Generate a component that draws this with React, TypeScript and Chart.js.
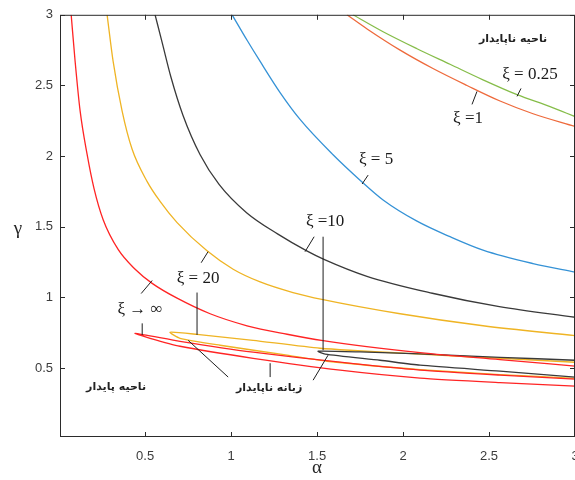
import React, { useEffect, useRef } from "react";
import { Chart, registerables } from "chart.js";

Chart.register(...registerables);

// Axis ticks
const alphaTicks = [0.5, 1, 1.5, 2, 2.5, 3];
const gammaTicks = [0.5, 1, 1.5, 2, 2.5, 3];

// ξ → ∞ : upper stability boundary
const infUpperA = [0.07, 0.093, 0.122, 0.163, 0.203, 0.256, 0.343, 0.442, 0.541, 0.686, 0.878, 1.093, 1.326, 1.535, 2.099, 2.564, 3.0];
const infUpperG = [3.0, 2.67, 2.32, 2.01, 1.77, 1.55, 1.34, 1.2, 1.1, 0.995, 0.885, 0.8, 0.74, 0.695, 0.61, 0.56, 0.515];
// ξ → ∞ : unstable tongue (upper edge right→tip, then lower edge tip→right)
const infTongueA = [3.0, 2.564, 2.099, 1.634, 1.128, 0.703, 0.442, 0.529, 0.703, 1.128, 1.634, 2.099, 2.564, 3.0];
const infTongueG = [0.423, 0.451, 0.486, 0.542, 0.613, 0.69, 0.746, 0.711, 0.655, 0.57, 0.486, 0.43, 0.398, 0.373];

// ξ = 20
const x20UpperA = [0.279, 0.314, 0.366, 0.424, 0.512, 0.587, 0.686, 0.86, 1.012, 1.169, 1.36, 1.535, 1.983, 2.465, 3.0];
const x20UpperG = [3.0, 2.67, 2.32, 2.05, 1.82, 1.68, 1.53, 1.33, 1.2, 1.11, 1.035, 0.985, 0.885, 0.8, 0.73];
const x20TongueA = [3.0, 2.564, 2.099, 1.517, 1.128, 0.802, 0.645, 0.703, 0.936, 1.326, 1.558, 2.099, 2.564, 3.0];
const x20TongueG = [0.542, 0.57, 0.599, 0.641, 0.697, 0.739, 0.754, 0.711, 0.662, 0.592, 0.549, 0.49, 0.455, 0.428];

// ξ = 10
const x10UpperA = [0.558, 0.6, 0.65, 0.72, 0.82, 0.93, 1.09, 1.27, 1.44, 1.54, 1.79, 2.17, 2.56, 3.0];
const x10UpperG = [3.0, 2.8, 2.56, 2.29, 2.01, 1.8, 1.6, 1.45, 1.33, 1.27, 1.15, 1.03, 0.935, 0.86];
const x10TongueA = [3.0, 2.564, 2.099, 1.75, 1.506, 1.547, 1.866, 2.099, 2.564, 3.0];
const x10TongueG = [0.556, 0.577, 0.601, 0.615, 0.62, 0.599, 0.556, 0.521, 0.479, 0.437];

// ξ = 5
const x5A = [1.006, 1.093, 1.169, 1.285, 1.401, 1.593, 1.75, 1.884, 2.081, 2.273, 2.465, 2.756, 3.0];
const x5G = [3.0, 2.82, 2.67, 2.45, 2.26, 2.01, 1.83, 1.69, 1.54, 1.43, 1.335, 1.24, 1.18];

// ξ = 1
const x1A = [1.674, 1.791, 1.983, 2.174, 2.372, 2.564, 2.756, 3.0];
const x1G = [3.0, 2.9, 2.75, 2.62, 2.5, 2.39, 2.3, 2.21];

// ξ = 0.25
const x025A = [1.709, 1.884, 2.081, 2.273, 2.465, 2.663, 2.855, 3.0];
const x025G = [3.0, 2.88, 2.76, 2.65, 2.54, 2.435, 2.35, 2.28];

// Curve labels and their leader lines (data coordinates)
const curveLabels = [
  { text: "ξ = 0.25", a: 2.738, g: 2.577 },
  { text: "ξ =1", a: 2.378, g: 2.268 },
  { text: "ξ = 5", a: 1.843, g: 1.979 },
  { text: "ξ =10", a: 1.547, g: 1.535 },
  { text: "ξ = 20", a: 0.808, g: 1.134 },
  { text: "ξ → ∞", a: 0.471, g: 0.915 },
];
const leaderLines = [
  [2.663, 2.423, 2.686, 2.479],
  [2.401, 2.366, 2.43, 2.458],
  [1.762, 1.803, 1.797, 1.866],
  [1.43, 1.324, 1.483, 1.43],
  [1.535, 1.43, 1.535, 0.627],
  [0.826, 1.246, 0.866, 1.324],
  [0.802, 1.035, 0.802, 0.735],
  [0.477, 1.028, 0.541, 1.12],
  [0.483, 0.817, 0.483, 0.735],
  [0.75, 0.697, 0.983, 0.437],
  [1.227, 0.535, 1.227, 0.437],
  [1.477, 0.415, 1.564, 0.592],
];
const regionLabels = [
  { text: "ناحیه ناپایدار", a: 2.64, g: 2.831 },
  { text: "ناحیه پایدار", a: 0.331, g: 0.366 },
  { text: "زبانه ناپایدار", a: 1.221, g: 0.359 },
];

const RED = "#ff2424";
const ORANGE = "#efb424";
const BLACK = "#3a3a3a";
const BLUE = "#3592d6";
const ORANGE_RED = "#ee6a3c";
const GREEN = "#86bd4a";

const zip = (a: number[], g: number[]) => a.map((v, i) => ({ x: v, y: g[i] }));

// boundary branches: x increases monotonically, so use monotone cubic smoothing
const branch = (data: { x: number; y: number }[], color: string) => ({
  data,
  borderColor: color,
  backgroundColor: color,
  borderWidth: 1.3,
  pointRadius: 0,
  showLine: true,
  fill: false,
  cubicInterpolationMode: "monotone",
});

// closed tongues fold back on themselves, so use plain bezier tension
const tongue = (data: { x: number; y: number }[], color: string) => ({
  data,
  borderColor: color,
  backgroundColor: color,
  borderWidth: 1.3,
  pointRadius: 0,
  showLine: true,
  fill: false,
  tension: 0.2,
});

const overlayPlugin = {
  id: "overlay",
  afterDatasetsDraw(chart: any) {
    const { ctx, chartArea, scales } = chart;
    const xs = scales.x;
    const ys = scales.y;
    const { left, right, top, bottom } = chartArea;
    ctx.save();

    // frame
    ctx.strokeStyle = "#2b2b2b";
    ctx.lineWidth = 1;
    ctx.strokeRect(left + 0.5, top + 0.5, right - left - 1, bottom - top - 1);

    // inward ticks on all four sides
    const tl = 5;
    ctx.beginPath();
    alphaTicks.forEach((v) => {
      const px = Math.round(xs.getPixelForValue(v)) + 0.5;
      ctx.moveTo(px, bottom);
      ctx.lineTo(px, bottom - tl);
      ctx.moveTo(px, top);
      ctx.lineTo(px, top + tl);
    });
    gammaTicks.forEach((v) => {
      const py = Math.round(ys.getPixelForValue(v)) + 0.5;
      ctx.moveTo(left, py);
      ctx.lineTo(left + tl, py);
      ctx.moveTo(right, py);
      ctx.lineTo(right - tl, py);
    });
    ctx.stroke();

    // axis titles
    ctx.fillStyle = "#262626";
    ctx.font = "19px 'Liberation Serif', serif";
    ctx.textAlign = "center";
    ctx.textBaseline = "middle";
    ctx.fillText("γ", 18, ys.getPixelForValue(1.5) + 2);
    ctx.fillText("α", xs.getPixelForValue(1.5), 468);

    // leader lines
    ctx.strokeStyle = "#1e1e1e";
    ctx.lineWidth = 1;
    ctx.beginPath();
    leaderLines.forEach(([a1, g1, a2, g2]) => {
      ctx.moveTo(xs.getPixelForValue(a1), ys.getPixelForValue(g1));
      ctx.lineTo(xs.getPixelForValue(a2), ys.getPixelForValue(g2));
    });
    ctx.stroke();

    // curve labels
    ctx.fillStyle = "#1a1a1a";
    ctx.font = "17px 'Liberation Serif', 'DejaVu Serif', serif";
    curveLabels.forEach((l) => {
      ctx.fillText(l.text, xs.getPixelForValue(l.a), ys.getPixelForValue(l.g));
    });

    // region labels
    ctx.font = "bold 11px 'DejaVu Sans', sans-serif";
    ctx.fillStyle = "#222";
    regionLabels.forEach((l) => {
      ctx.fillText(l.text, xs.getPixelForValue(l.a), ys.getPixelForValue(l.g));
    });

    ctx.restore();
  },
};

export default function App() {
  const canvasRef = useRef<HTMLCanvasElement | null>(null);

  useEffect(() => {
    if (!canvasRef.current) return;
    const chart = new Chart(canvasRef.current, {
      type: "scatter",
      data: {
        datasets: [
          tongue(zip(infTongueA, infTongueG), RED),
          branch(zip(infUpperA, infUpperG), RED),
          tongue(zip(x10TongueA, x10TongueG), BLACK),
          tongue(zip(x20TongueA, x20TongueG), ORANGE),
          branch(zip(x10UpperA, x10UpperG), BLACK),
          branch(zip(x20UpperA, x20UpperG), ORANGE),
          branch(zip(x5A, x5G), BLUE),
          branch(zip(x1A, x1G), ORANGE_RED),
          branch(zip(x025A, x025G), GREEN),
        ] as any,
      },
      options: {
        responsive: false,
        animation: false,
        layout: { padding: { left: 0, top: 14, right: 25, bottom: 0 } },
        plugins: { legend: { display: false }, tooltip: { enabled: false } },
        scales: {
          x: {
            type: "linear",
            min: 0.005,
            max: 3,
            grid: { display: false, drawTicks: false },
            border: { display: false },
            afterBuildTicks: (s: any) => {
              s.ticks = alphaTicks.map((v) => ({ value: v }));
            },
            afterFit: (s: any) => {
              s.height = 43;
            },
            ticks: {
              padding: 12,
              color: "#3c3c3c",
              font: { family: "'Liberation Sans', Arial, sans-serif", size: 13 },
              callback: (v: any) => String(v),
            },
          },
          y: {
            type: "linear",
            min: 0.013,
            max: 3,
            grid: { display: false, drawTicks: false },
            border: { display: false },
            afterBuildTicks: (s: any) => {
              s.ticks = gammaTicks.map((v) => ({ value: v }));
            },
            afterFit: (s: any) => {
              s.width = 60;
            },
            ticks: {
              padding: 7,
              color: "#3c3c3c",
              font: { family: "'Liberation Sans', Arial, sans-serif", size: 13 },
              callback: (v: any) => String(v),
            },
          },
        },
      },
      plugins: [overlayPlugin],
    });
    return () => chart.destroy();
  }, []);

  return (
    <div
      style={{
        position: "fixed",
        left: 0,
        top: 0,
        width: 575,
        height: 480,
        overflow: "hidden",
        background: "#fff",
      }}
    >
      <canvas ref={canvasRef} width={600} height={480} style={{ display: "block", width: 600, height: 480 }} />
    </div>
  );
}
